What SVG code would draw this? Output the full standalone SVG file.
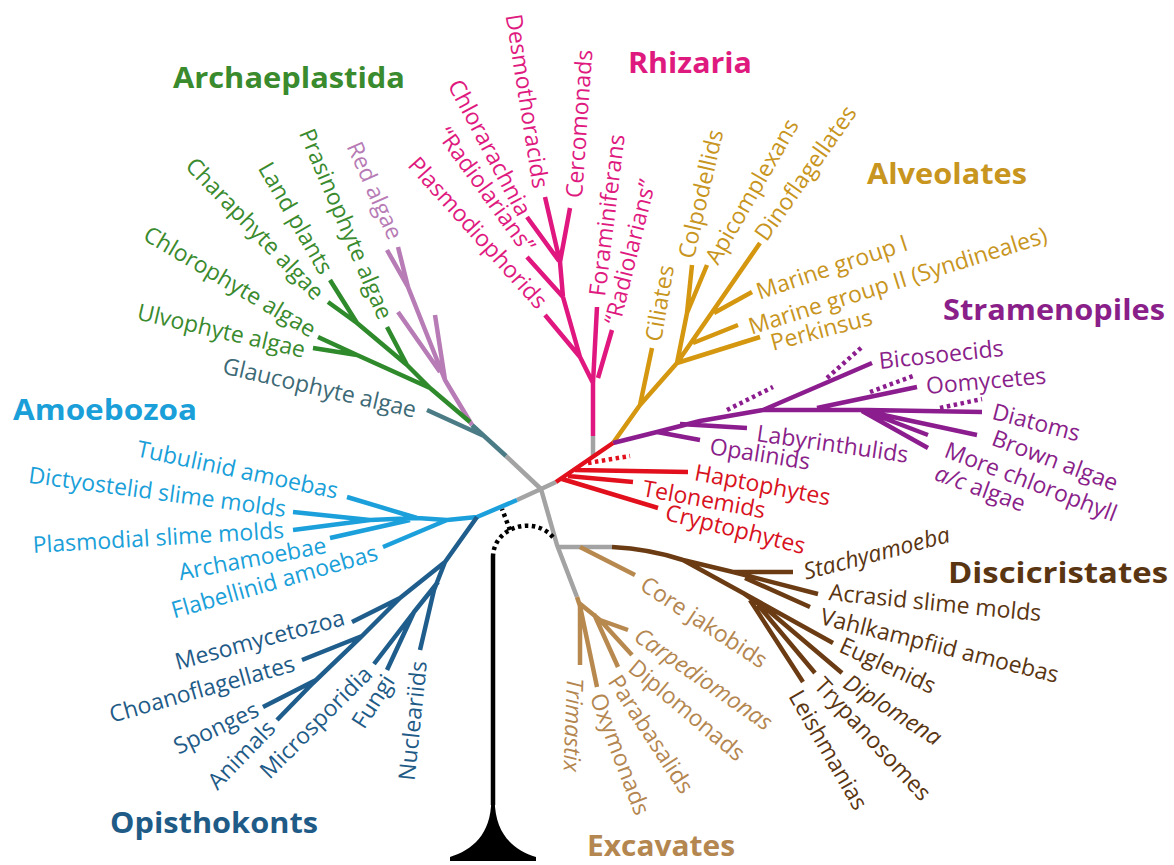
<svg xmlns="http://www.w3.org/2000/svg" width="1174" height="865" viewBox="0 0 1174 865">
<style>
.l{font-family:"Open Sans","Noto Sans","DejaVu Sans",sans-serif;font-size:23px}
.t{font-family:"Open Sans","Noto Sans","DejaVu Sans",sans-serif;font-size:29px;font-weight:bold}
.i{font-style:italic}
.b{fill:none;stroke-width:4.5;stroke-linecap:butt;stroke-linejoin:round}
.d{stroke-dasharray:3.5 3.5}
.gray{stroke:#a3a3a3}.green{stroke:#2f8a2c}.pink{stroke:#b77bb5}.teal{stroke:#4b7c86}.mag{stroke:#e0177f}.gold{stroke:#d4970f}.pur{stroke:#8c1d8e}.red{stroke:#e2101c}.lblue{stroke:#1ca0dc}.dblue{stroke:#1f5d8c}.dbr{stroke:#6b3c14}.lbr{stroke:#b8894f}.blk{stroke:#000}
.fgreen{fill:#3a8a2e}.fpink{fill:#b77bb5}.fteal{fill:#3d6a76}.fmag{fill:#df1a7f}.fgold{fill:#c8951e}.fpur{fill:#8a1f8a}.fred{fill:#d8121e}.flblue{fill:#1a9fd9}.fdblue{fill:#1f5b87}.fdbr{fill:#5a3512}.flbr{fill:#b48650}
</style>
<rect width="1174" height="865" fill="#fff"/>
<g id="connectors">
<path class="b gray" d="M541,489 L506,456 M541,489 L556,482 M541,489 L517,500 M541,489 L557,545 L577,597 M557,547 L612,547 M593,457 L593,436"/>
<path class="b teal" d="M506,456 L472,425 M484,436 L427,410"/>
<path class="b pink" d="M472,425 L445,380 L408,287 L387,250 M408,287 L398,247 M440,372 L398,312 M445,380 L435,315"/>
<path class="b green" d="M470,422 L430,388 L357,355 L313,348 M357,355 L318,337 M430,388 L407,365 L357,323 L330,280 M407,365 L387,327 M357,323 L328,302"/>
<path class="b mag" d="M593,436 L593,383 L597,307 M598,378 L612,330 M593,383 L580,357 L563,297 L560,262 M580,357 L545,315 M563,297 L527,257 M560,262 L545,197 M560,262 L570,208 M559,261 L527,217"/>
<path class="b gold" d="M613,443 L640,405 L677,363 M640,405 L652,348 M677,363 L687,313 L692,265 M687,313 L707,265 M677,363 L760,243 M714,313 L752,292 M693,343 L738,325 M677,363 L760,337"/>
<path class="b pur" d="M613,443 L657,432 L700,421 L763,410 L867,410 L982,412 M657,432 L700,440 M680,424 L747,428 M763,410 L872,363 M817,408 L917,387 M865,411 L977,435 M865,411 L928,435 M862,411 L928,448"/>
<path class="b pur d" d="M727,410 L773,387 M827,378 L862,347 M870,392 L913,376 M940,408 L982,399"/>
<path class="b red" d="M556,482 L613,443 M575,470 L688,472 M568,476 L633,482 M562,479 L658,508"/>
<path class="b red d" d="M588,463 L630,456"/>
<path class="b lblue" d="M517,500 L477,517 L447,520 L417,518 L370,520 L293,512 M417,518 L347,497 M370,520 L293,530 M410,520 L330,538 M447,520 L383,547"/>
<path class="b dblue" d="M477,517 L445,562 L400,598 L360,638 L313,683 L277,720 M400,598 L352,622 M362,636 L302,660 M316,680 L263,707 M445,562 L434,590 L420,650 M438,582 L414,612 L387,670 M414,612 L374,664"/>
<path class="b dbr" d="M612,547 Q650,549 683,560 L733,572 L793,572 M733,572 L818,594 M745,578 L810,607 M683,560 L743,593 L770,612 L842,673 M743,593 L833,643 M758,605 L815,673 M750,600 L803,682"/>
<path class="b lbr" d="M580,547 L635,575 M577,597 L580,606 L580,665 M580,606 L597,687 M579,603 L600,620 L628,630 M600,620 L632,655 M594,614 L618,667"/>
<path class="b blk" d="M493,557 L493,805"/>
<path class="b blk d" d="M493,557 C493,545 500,535 510,530 C525,522 545,525 555,540 M510,530 L502,509"/>
<path d="M491.3,800 C491,835 472,850 450,857 L450,861 L536,861 L536,857 C514,850 495,835 494.7,800 Z" fill="#000"/>
</g>
<g id="archaeplastida">
<text id="t-archaeplastida" class="t fgreen" x="173" y="88" textLength="232" lengthAdjust="spacingAndGlyphs">Archaeplastida</text>
<g id="red-algae"><text class="l fpink" text-anchor="end" dy=".35em" transform="translate(396,238) rotate(66)">Red algae</text></g>
<g id="prasinophyte"><text class="l fgreen" text-anchor="end" dy=".35em" transform="translate(386,318) rotate(67)">Prasinophyte algae</text></g>
<g id="land-plants"><text class="l fgreen" text-anchor="end" dy=".35em" transform="translate(327,272) rotate(60)">Land plants</text></g>
<g id="charaphyte"><text class="l fgreen" text-anchor="end" dy=".35em" transform="translate(320,296) rotate(46)">Charaphyte algae</text></g>
<g id="chlorophyte"><text class="l fgreen" text-anchor="end" dy=".35em" transform="translate(314,331) rotate(30.5)">Chlorophyte algae</text></g>
<g id="ulvophyte"><text class="l fgreen" text-anchor="end" dy=".35em" transform="translate(305,350) rotate(13)">Ulvophyte algae</text></g>
<g id="glaucophyte"><text class="l fteal" text-anchor="end" dy=".35em" transform="translate(416,410) rotate(13)">Glaucophyte algae</text></g>
</g>
<g id="rhizaria">
<text id="t-rhizaria" class="t fmag" x="628" y="73" textLength="124" lengthAdjust="spacingAndGlyphs">Rhizaria</text>
<g id="desmothoracids"><text class="l fmag" text-anchor="end" dy=".35em" transform="translate(541,188) rotate(81)">Desmothoracids</text></g>
<g id="cercomonads"><text class="l fmag" dy=".35em" transform="translate(574,198) rotate(-86)">Cercomonads</text></g>
<g id="chlorarachnia"><text class="l fmag" text-anchor="end" dy=".35em" transform="translate(525,214) rotate(62)">Chlorarachnia</text></g>
<g id="radiolarians-1"><text class="l fmag" text-anchor="end" dy=".35em" transform="translate(530,250) rotate(54)">“Radiolarians”</text></g>
<g id="plasmodiophorids"><text class="l fmag" text-anchor="end" dy=".35em" transform="translate(543,305) rotate(48)">Plasmodiophorids</text></g>
<g id="foraminiferans"><text class="l fmag" dy=".35em" transform="translate(597,296) rotate(-83)">Foraminiferans</text></g>
<g id="radiolarians-2"><text class="l fmag" dy=".35em" transform="translate(612,324) rotate(-76)">“Radiolarians”</text></g>
</g>
<g id="alveolates">
<text id="t-alveolates" class="t fgold" x="867" y="184" textLength="160" lengthAdjust="spacingAndGlyphs">Alveolates</text>
<g id="ciliates"><text class="l fgold" dy=".35em" transform="translate(653,341) rotate(-80)">Ciliates</text></g>
<g id="colpodellids"><text class="l fgold" dy=".35em" transform="translate(686,258) rotate(-77)">Colpodellids</text></g>
<g id="apicomplexans"><text class="l fgold" dy=".35em" transform="translate(711,262) rotate(-60)">Apicomplexans</text></g>
<g id="dinoflagellates"><text class="l fgold" dy=".35em" transform="translate(760,238) rotate(-55)">Dinoflagellates</text></g>
<g id="marine-1"><text class="l fgold" dy=".35em" transform="translate(757,292) rotate(-18.4)">Marine group I</text></g>
<g id="marine-2"><text class="l fgold" dy=".35em" transform="translate(749,327) rotate(-17.3)">Marine group II (Syndineales)</text></g>
<g id="perkinsus"><text class="l fgold" dy=".35em" transform="translate(771,343) rotate(-14.7)">Perkinsus</text></g>
</g>
<g id="stramenopiles">
<text id="t-stramenopiles" class="t fpur" x="943" y="320" textLength="222" lengthAdjust="spacingAndGlyphs">Stramenopiles</text>
<g id="bicosoecids"><text class="l fpur" dy=".35em" transform="translate(879,361) rotate(-6)">Bicosoecids</text></g>
<g id="oomycetes"><text class="l fpur" dy=".35em" transform="translate(926,386) rotate(-5)">Oomycetes</text></g>
<g id="diatoms"><text class="l fpur" dy=".35em" transform="translate(993,411) rotate(14.7)">Diatoms</text></g>
<g id="brown-algae"><text class="l fpur" dy=".35em" transform="translate(993,437) rotate(20.6)">Brown algae</text></g>
<g id="more-chl"><text class="l fpur" dy=".35em" transform="translate(946,449) rotate(21)">More chlorophyll</text><text class="l fpur" dy=".35em" transform="translate(936,472) rotate(20)"><tspan class="i">a/c</tspan> algae</text></g>
<g id="labyrinthulids"><text class="l fpur" dy=".35em" transform="translate(757,433) rotate(8.2)">Labyrinthulids</text></g>
<g id="opalinids"><text class="l fpur" dy=".35em" transform="translate(710,446) rotate(9)">Opalinids</text></g>
</g>
<g id="hacrobia">
<g id="haptophytes"><text class="l fred" dy=".35em" transform="translate(695,472) rotate(10.7)">Haptophytes</text></g>
<g id="telonemids"><text class="l fred" dy=".35em" transform="translate(643,488) rotate(10.4)">Telonemids</text></g>
<g id="cryptophytes"><text class="l fred" dy=".35em" transform="translate(666,512) rotate(13.8)">Cryptophytes</text></g>
</g>
<g id="discicristates">
<text id="t-discicristates" class="t fdbr" x="948" y="583" textLength="220" lengthAdjust="spacingAndGlyphs">Discicristates</text>
<g id="stachyamoeba"><text class="l fdbr i" dy=".35em" transform="translate(804,572) rotate(-14.7)">Stachyamoeba</text></g>
<g id="acrasid"><text class="l fdbr" dy=".35em" transform="translate(829,592) rotate(5.7)">Acrasid slime molds</text></g>
<g id="vahlkampfiid"><text class="l fdbr" dy=".35em" transform="translate(821,616) rotate(14)">Vahlkampfiid amoebas</text></g>
<g id="euglenids"><text class="l fdbr" dy=".35em" transform="translate(841,644) rotate(24.6)">Euglenids</text></g>
<g id="diplomena"><text class="l fdbr i" dy=".35em" transform="translate(846,680) rotate(32.5)">Diplomena</text></g>
<g id="trypanosomes"><text class="l fdbr" dy=".35em" transform="translate(819,681) rotate(47)">Trypanosomes</text></g>
<g id="leishmanias"><text class="l fdbr" dy=".35em" transform="translate(795,692) rotate(60)">Leishmanias</text></g>
</g>
<g id="excavates">
<text id="t-excavates" class="t flbr" x="587" y="856" textLength="148" lengthAdjust="spacingAndGlyphs">Excavates</text>
<g id="core-jakobids"><text class="l flbr" dy=".35em" transform="translate(643,582) rotate(33.3)">Core jakobids</text></g>
<g id="carpediomonas"><text class="l flbr i" dy=".35em" transform="translate(637,633) rotate(34.6)">Carpediomonas</text></g>
<g id="diplomonads"><text class="l flbr" dy=".35em" transform="translate(632,664) rotate(40)">Diplomonads</text></g>
<g id="parabasalids"><text class="l flbr" dy=".35em" transform="translate(614,677) rotate(57)">Parabasalids</text></g>
<g id="oxymonads"><text class="l flbr" dy=".35em" transform="translate(597,694) rotate(69)">Oxymonads</text></g>
<g id="trimastix"><text class="l flbr i" dy=".35em" transform="translate(575,678) rotate(92)">Trimastix</text></g>
</g>
<g id="amoebozoa">
<text id="t-amoebozoa" class="t flblue" x="13" y="420" textLength="184" lengthAdjust="spacingAndGlyphs">Amoebozoa</text>
<g id="tubulinid"><text class="l flblue" text-anchor="end" dy=".35em" transform="translate(338,491) rotate(12)">Tubulinid amoebas</text></g>
<g id="dictyostelid"><text class="l flblue" text-anchor="end" dy=".35em" transform="translate(286,509) rotate(7.6)">Dictyostelid slime molds</text></g>
<g id="plasmodial"><text class="l flblue" text-anchor="end" dy=".35em" transform="translate(284,530) rotate(-3.4)">Plasmodial slime molds</text></g>
<g id="archamoebae"><text class="l flblue" text-anchor="end" dy=".35em" transform="translate(326,545) rotate(-10.5)">Archamoebae</text></g>
<g id="flabellinid"><text class="l flblue" text-anchor="end" dy=".35em" transform="translate(377,552) rotate(-16)">Flabellinid amoebas</text></g>
</g>
<g id="opisthokonts">
<text id="t-opisthokonts" class="t fdblue" x="110" y="833" textLength="208" lengthAdjust="spacingAndGlyphs">Opisthokonts</text>
<g id="mesomycetozoa"><text class="l fdblue" text-anchor="end" dy=".35em" transform="translate(344,617) rotate(-15)">Mesomycetozoa</text></g>
<g id="choanoflagellates"><text class="l fdblue" text-anchor="end" dy=".35em" transform="translate(294,663) rotate(-15.8)">Choanoflagellates</text></g>
<g id="sponges"><text class="l fdblue" text-anchor="end" dy=".35em" transform="translate(257,708) rotate(-25.8)">Sponges</text></g>
<g id="animals"><text class="l fdblue" text-anchor="end" dy=".35em" transform="translate(271,724) rotate(-46)">Animals</text></g>
<g id="microsporidia"><text class="l fdblue" text-anchor="end" dy=".35em" transform="translate(368,670) rotate(-45)">Microsporidia</text></g>
<g id="fungi"><text class="l fdblue" text-anchor="end" dy=".35em" transform="translate(389,677) rotate(-57)">Fungi</text></g>
<g id="nucleariids"><text class="l fdblue" text-anchor="end" dy=".35em" transform="translate(419,661) rotate(-84)">Nucleariids</text></g>
</g>
</svg>
